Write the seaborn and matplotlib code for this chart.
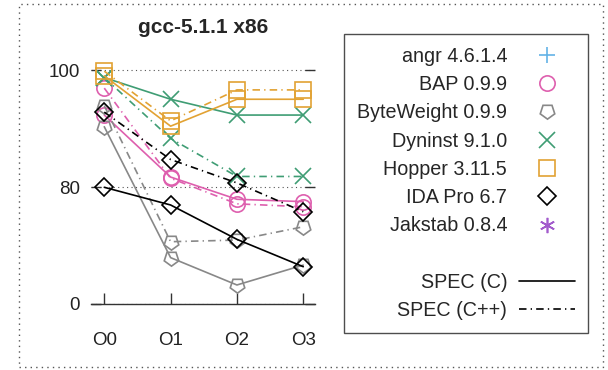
import numpy as np
import pandas as pd
import matplotlib
matplotlib.use("Agg")
import matplotlib.pyplot as plt
from matplotlib.lines import Line2D
from matplotlib.patches import Rectangle
import seaborn as sns

# optimisation levels on the x axis
levels = ['O0', 'O1', 'O2', 'O3']

# percentage per tool, SPEC C and SPEC C++
bap_c = [92.3, 81.7, 71.6, 70.0]
bap_cpp = [96.9, 81.5, 68.5, 66.5]
byteweight_c = [90.3, 31.7, 13.0, 26.6]
byteweight_cpp = [93.9, 42.6, 43.7, 52.8]
dyninst_c = [98.7, 95.0, 92.3, 92.3]
dyninst_cpp = [98.7, 88.3, 81.8, 81.8]
hopper_c = [99.0, 90.4, 95.0, 95.0]
hopper_cpp = [99.8, 91.3, 96.6, 96.6]
ida_c = [79.8, 67.7, 44.2, 25.5]
ida_cpp = [92.8, 84.7, 80.7, 63.1]

tools = ['angr 4.6.1.4', 'BAP 0.9.9', 'ByteWeight 0.9.9', 'Dyninst 9.1.0',
         'Hopper 3.11.5', 'IDA Pro 6.7', 'Jakstab 0.8.4']
colors = ['#64b3e6', '#de5fae', '#888888', '#3f9d74', '#e2a233', '#000000', '#a25bcc']
markers = ['+', 'o', (5, 0, 180), 'x', 's', 'D', (6, 2, 0)]

series = {
    'BAP 0.9.9': (bap_c, bap_cpp),
    'ByteWeight 0.9.9': (byteweight_c, byteweight_cpp),
    'Dyninst 9.1.0': (dyninst_c, dyninst_cpp),
    'Hopper 3.11.5': (hopper_c, hopper_cpp),
    'IDA Pro 6.7': (ida_c, ida_cpp),
}

sns.set_style("white")
plt.rcParams['font.family'] = ['Liberation Sans', 'DejaVu Sans']

fig = plt.figure(figsize=(6.08, 3.70), dpi=100)
ax = fig.add_axes([0.1497, 0.1784, 0.3687, 0.664])


# broken y axis: 0-80 and 80-100 take the same height
def fwd(v):
    v = np.asarray(v, dtype=float)
    return np.where(v <= 80, v, 80 + (v - 80) * 4)


def inv(t):
    t = np.asarray(t, dtype=float)
    return np.where(t <= 80, t, 80 + (t - 80) / 4)


ax.set_yscale('function', functions=(fwd, inv))

dashdot = (0, (4.5, 2.5, 0.8, 2.5))
lw = 1.2
for name, (c_vals, cpp_vals) in series.items():
    i = tools.index(name)
    for vals, ls in [(c_vals, '-'), (cpp_vals, dashdot)]:
        df = pd.DataFrame({'level': levels, 'value': vals})
        sns.lineplot(data=df, x='level', y='value', ax=ax, color=colors[i],
                     linestyle=ls, linewidth=lw, marker=markers[i],
                     markersize=11 if markers[i] != 'D' else 9.5,
                     markerfacecolor='none', markeredgecolor=colors[i],
                     markeredgewidth=1.2, errorbar=None, sort=False)

ax.set_ylim(0, 102)
ax.set_xlim(-0.2, 3.18)
ax.set_yticks([0, 80, 100])
ax.set_yticklabels(['0', '80', '100'])
ax.set_xlabel('')
ax.set_ylabel('')
ax.yaxis.grid(True, linestyle=(0, (1, 3)), color='#555555', linewidth=0.8)
ax.xaxis.grid(False)
for s in ['left', 'right', 'top']:
    ax.spines[s].set_visible(False)
ax.spines['bottom'].set_color('#333333')
ax.spines['bottom'].set_linewidth(1.0)
ax.tick_params(axis='y', direction='in', left=True, right=True, length=7,
               width=1.0, color='#333333', labelsize=13.5, labelcolor='#222222', pad=8)
ax.tick_params(axis='x', direction='in', bottom=True, length=8, width=1.0,
               color='#333333', labelsize=13.5, labelcolor='#222222', pad=20)
ax.set_title('gcc-5.1.1 x86', fontsize=15, fontweight='bold', pad=18)

# legend: tool markers, a blank row, then line styles
handles = []
for t, c, m in zip(tools, colors, markers):
    handles.append(Line2D([], [], linestyle='none', marker=m, color=c,
                          markerfacecolor='none', markeredgecolor=c,
                          markersize=11 if m != 'D' else 9.5, markeredgewidth=1.2))
handles.append(Line2D([], [], linestyle='none'))
handles.append(Line2D([], [], color='black', linestyle='-', linewidth=lw))
handles.append(Line2D([], [], color='black', linestyle=dashdot, linewidth=lw))
labels = tools + [' ', 'SPEC (C)', 'SPEC (C++)']
leg = fig.legend(handles, labels, loc='upper right',
                 bbox_to_anchor=(588 / 608, (370 - 34) / 370),
                 markerfirst=False, frameon=True, fancybox=False,
                 fontsize=14.2, labelspacing=0.47, handlelength=2.85,
                 handletextpad=0.6, borderpad=0.65, borderaxespad=0)
leg.get_frame().set_edgecolor('#222222')
leg.get_frame().set_linewidth(1.0)

# dotted frame round the whole picture
fig.patches.append(Rectangle((19 / 608, 3 / 370), 584 / 608, 363 / 370,
                             transform=fig.transFigure, fill=False,
                             edgecolor='#555555', linestyle=(0, (1, 3)),
                             linewidth=1.0))

fig.savefig('out.png', dpi=100)
